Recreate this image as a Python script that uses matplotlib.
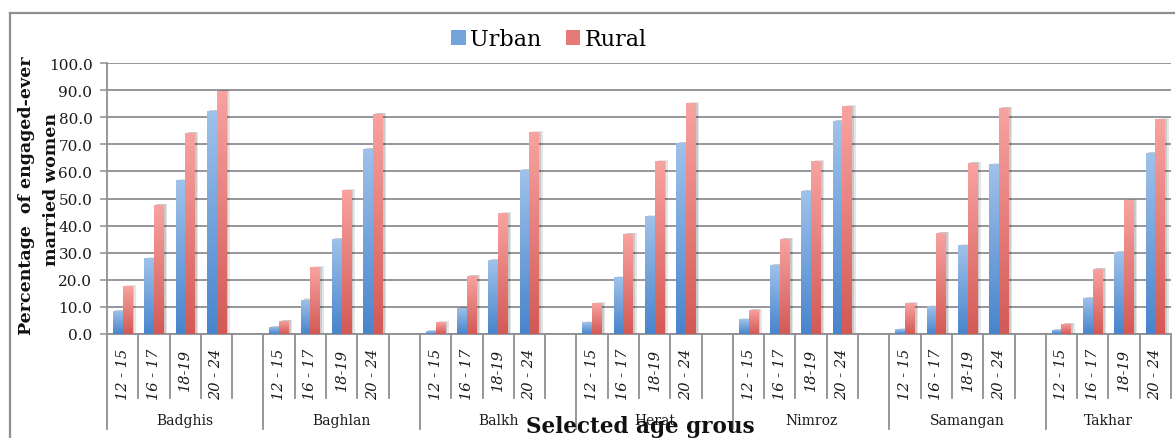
import numpy as np
import matplotlib
matplotlib.use("Agg")
import matplotlib.pyplot as plt
from matplotlib.transforms import blended_transform_factory
from matplotlib.lines import Line2D
import matplotlib.patheffects as pe
from matplotlib.colors import LinearSegmentedColormap

# ---------------- data ----------------
provinces = ["Badghis", "Baghlan", "Balkh", "Herat", "Nimroz", "Samangan", "Takhar"]
age_groups = ["12 - 15", "16 - 17", "18-19", "20 - 24"]
urban = [
    [8.5, 28.0, 56.8, 82.3],
    [2.7, 12.7, 35.1, 68.3],
    [1.1, 9.7, 27.3, 60.5],
    [4.4, 21.0, 43.5, 70.5],
    [5.5, 25.5, 52.8, 78.6],
    [1.8, 10.3, 32.8, 62.7],
    [1.5, 13.3, 30.3, 66.8],
]
rural = [
    [17.6, 47.6, 74.2, 89.8],
    [4.8, 24.7, 53.1, 81.2],
    [4.4, 21.4, 44.6, 74.5],
    [11.4, 36.9, 63.8, 85.2],
    [8.9, 35.1, 63.8, 84.1],
    [11.4, 37.3, 63.1, 83.4],
    [3.7, 24.0, 49.4, 79.3],
]
series_names = ["Urban", "Rural"]
y_title = ["Percentage  of engaged-ever", "married women"]
x_title = "Selected age grous"

# ---------------- style ----------------
FONT = "DejaVu Serif"
plt.rcParams["font.family"] = FONT
GRID = "#8f8f93"
urban_top, urban_bot = "#a0c2ea", "#4884cc"
rural_top, rural_bot = "#f8a3a1", "#d35955"

W, H = 1175, 439
fig = plt.figure(figsize=(W / 100, H / 100), dpi=100)
ax = fig.add_axes([107 / W, 1 - 335 / H, (1171 - 107) / W, (335 - 64) / H])

slots_per_prov = 5
n_slots = slots_per_prov * (len(provinces) - 1) + len(age_groups)
bw = 0.31

x_u, x_r, hu, hr = [], [], [], []
for p in range(len(provinces)):
    for j in range(len(age_groups)):
        c = p * slots_per_prov + j + 0.5
        x_u.append(c - bw / 2)
        x_r.append(c + bw / 2)
        hu.append(urban[p][j])
        hr.append(rural[p][j])

shadow = [pe.SimplePatchShadow(offset=(2.5, 0.8), shadow_rgbFace="#000000", alpha=0.10),
          pe.SimplePatchShadow(offset=(1.5, 0.4), shadow_rgbFace="#000000", alpha=0.12),
          pe.Normal()]

bars_u = ax.bar(x_u, hu, width=bw, color="#74a3db", zorder=3, label=series_names[0])
bars_r = ax.bar(x_r, hr, width=bw, color="#e67a77", zorder=3, label=series_names[1])

cm_u = LinearSegmentedColormap.from_list("u", [urban_bot, urban_top])
cm_r = LinearSegmentedColormap.from_list("r", [rural_bot, rural_top])
grad = np.linspace(0, 1, 256).reshape(-1, 1)
for bars, cm in ((bars_u, cm_u), (bars_r, cm_r)):
    for b in bars:
        b.set_path_effects(shadow)
        x0, y0 = b.get_x(), b.get_y()
        w, h = b.get_width(), b.get_height()
        im = ax.imshow(grad, extent=[x0, x0 + w, y0, y0 + h], origin="lower",
                       cmap=cm, vmin=0, vmax=1, aspect="auto", zorder=4,
                       interpolation="bilinear")
        im.set_clip_path(b)

ax.set_xlim(0, n_slots)
ax.set_ylim(0, 100)
ax.set_yticks(np.arange(0, 101, 10))
ax.set_yticklabels([f"{v:.1f}" for v in np.arange(0, 101, 10)])
ax.yaxis.grid(True, color=GRID, linewidth=1.3, zorder=0)
ax.set_axisbelow(True)
ax.tick_params(axis="y", length=5, width=1.1, color=GRID, labelsize=11, pad=5.5,
               labelcolor="#1a1a1a")

# x tick labels (age groups)
xt, xl = [], []
for p in range(len(provinces)):
    for j in range(len(age_groups)):
        xt.append(p * slots_per_prov + j + 0.5)
        xl.append(age_groups[j])
ax.set_xticks(xt)
ax.set_xticklabels(xl, rotation=90, fontstyle="italic", fontsize=10.5, color="#1a1a1a")
ax.tick_params(axis="x", length=0, pad=10)

for s in ["top", "right"]:
    ax.spines[s].set_visible(False)
for s in ["left", "bottom"]:
    ax.spines[s].set_color(GRID)
    ax.spines[s].set_linewidth(1.3)

# multi-level category axis lines
tr = blended_transform_factory(ax.transData, ax.transAxes)
short = -(399 - 335) / (335 - 64)
long_ = -(430 - 335) / (335 - 64)
for k in range(n_slots + 1):
    is_div = (k % slots_per_prov == 0) and k < n_slots
    ax.add_line(Line2D([k, k], [0, long_ if is_div else short], transform=tr,
                       color=GRID, linewidth=1.3, clip_on=False))

# province labels
prov_y = -(421 - 335) / (335 - 64)
for p, name in enumerate(provinces):
    start = p * slots_per_prov
    end = min(start + slots_per_prov, n_slots)
    ax.text((start + end) / 2, prov_y, name, transform=tr, ha="center", va="center",
            fontsize=10, color="#1a1a1a")

# axis titles
fig.text(27 / W, 1 - 196 / H, y_title[0], rotation=90, ha="center", va="center",
         fontsize=12.5, fontweight="bold", color="#111111")
fig.text(52 / W, 1 - 189 / H, y_title[1], rotation=90, ha="center", va="center",
         fontsize=12.5, fontweight="bold", color="#111111")
fig.text(640 / W, 1 - 433 / H, x_title, ha="center", va="baseline",
         fontsize=15.5, fontweight="bold", color="#111111")

# legend
leg = ax.legend(handles=[bars_u, bars_r], loc="center", ncol=2, frameon=False,
                bbox_to_anchor=(549 / W, 1 - 40 / H), bbox_transform=fig.transFigure,
                fontsize=16, handlelength=0.65, handleheight=0.65, handletextpad=0.2,
                columnspacing=1.1, borderpad=0)
for h in leg.legend_handles:
    h.set_path_effects([])

# outer chart border (cropped)
fig.add_artist(Line2D([10 / W, 10 / W], [0, 1 - 14 / H], color=GRID, linewidth=1.6))
fig.add_artist(Line2D([10 / W, 1], [1 - 14 / H, 1 - 14 / H], color=GRID, linewidth=1.6))

fig.savefig("out.png", dpi=100)
